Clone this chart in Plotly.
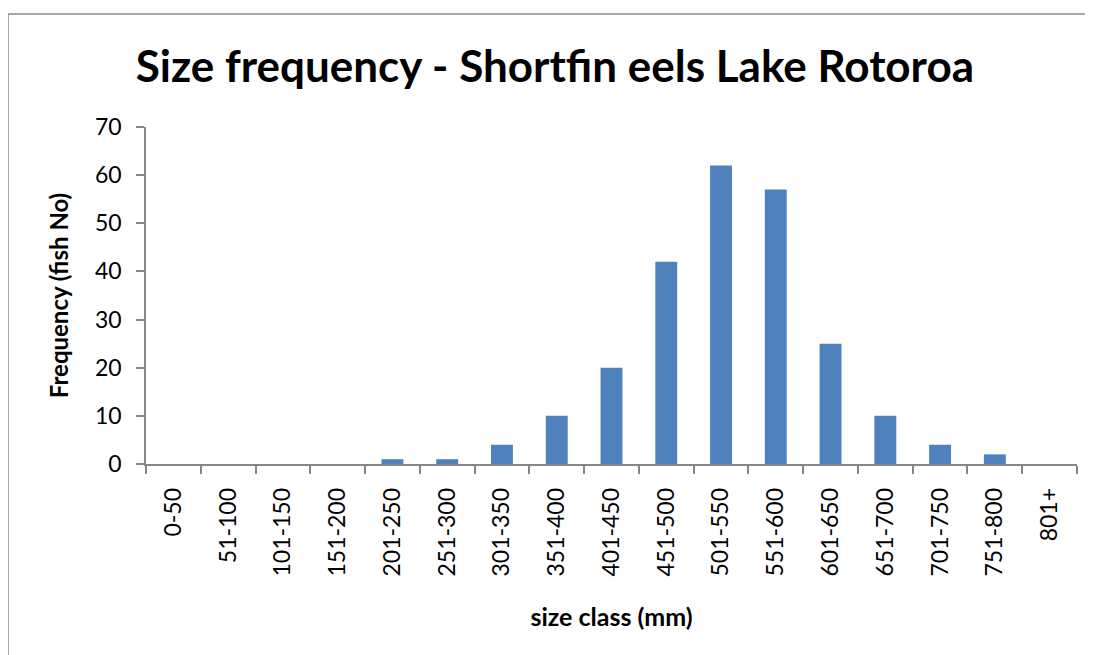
import plotly.graph_objects as go

size_classes = ['0-50', '51-100', '101-150', '151-200', '201-250', '251-300',
                '301-350', '351-400', '401-450', '451-500', '501-550', '551-600',
                '601-650', '651-700', '701-750', '751-800', '801+']
fish_count = [0, 0, 0, 0, 1, 1, 4, 10, 20, 42, 62, 57, 25, 10, 4, 2, 0]

bar_color = '#4F81BD'
axis_grey = '#868686'
font_name = 'Lato, Open Sans, sans-serif'

fig = go.Figure()
fig.add_trace(go.Bar(x=size_classes, y=fish_count, marker=dict(color=bar_color, line=dict(width=0))))

# chart frame (cropped in the original: only top and left edges visible)
fig.add_shape(type='line', xref='paper', yref='paper', x0=-0.1482, y0=1.3353, x1=1.05, y1=1.3353,
              line=dict(color='#8c8c8c', width=1.5))
fig.add_shape(type='line', xref='paper', yref='paper', x0=-0.1482, y0=1.3353, x1=-0.1482, y1=-0.6,
              line=dict(color='#8c8c8c', width=1.5))

# page body has an 8px margin, so the figure is 8px smaller than the window
fig.update_layout(
    width=1085, height=647,
    margin=dict(l=138, r=16, t=119, b=191),
    paper_bgcolor='white', plot_bgcolor='white',
    bargap=0.6,
    showlegend=False,
    font=dict(family=font_name, color='black'),
    title=dict(text='<b>Size frequency - Shortfin eels Lake Rotoroa</b>',
               x=0.504, xref='container', xanchor='center',
               y=0.91, yref='container', yanchor='middle',
               font=dict(size=44, family=font_name, color='black')),
)
fig.update_xaxes(
    type='category', tickangle=-90, tickson='boundaries',
    showline=True, linecolor=axis_grey, linewidth=1.5,
    ticks='outside', ticklen=8, tickcolor=axis_grey, tickwidth=1.5,
    ticklabelstandoff=13,
    tickfont=dict(size=23, family=font_name),
    title=dict(text='<b>size class (mm)</b>', font=dict(size=25, family=font_name), standoff=33),
    showgrid=False,
)
fig.update_yaxes(
    range=[0, 70], dtick=10,
    showline=True, linecolor=axis_grey, linewidth=1.5,
    ticks='outside', ticklen=8, tickcolor=axis_grey, tickwidth=1.5,
    ticklabelstandoff=10,
    tickfont=dict(size=23, family=font_name),
    title=dict(text='<b>Frequency (fish No)</b>', font=dict(size=24, family=font_name), standoff=20),
    showgrid=False, zeroline=False,
)

fig.write_html('out.html')
